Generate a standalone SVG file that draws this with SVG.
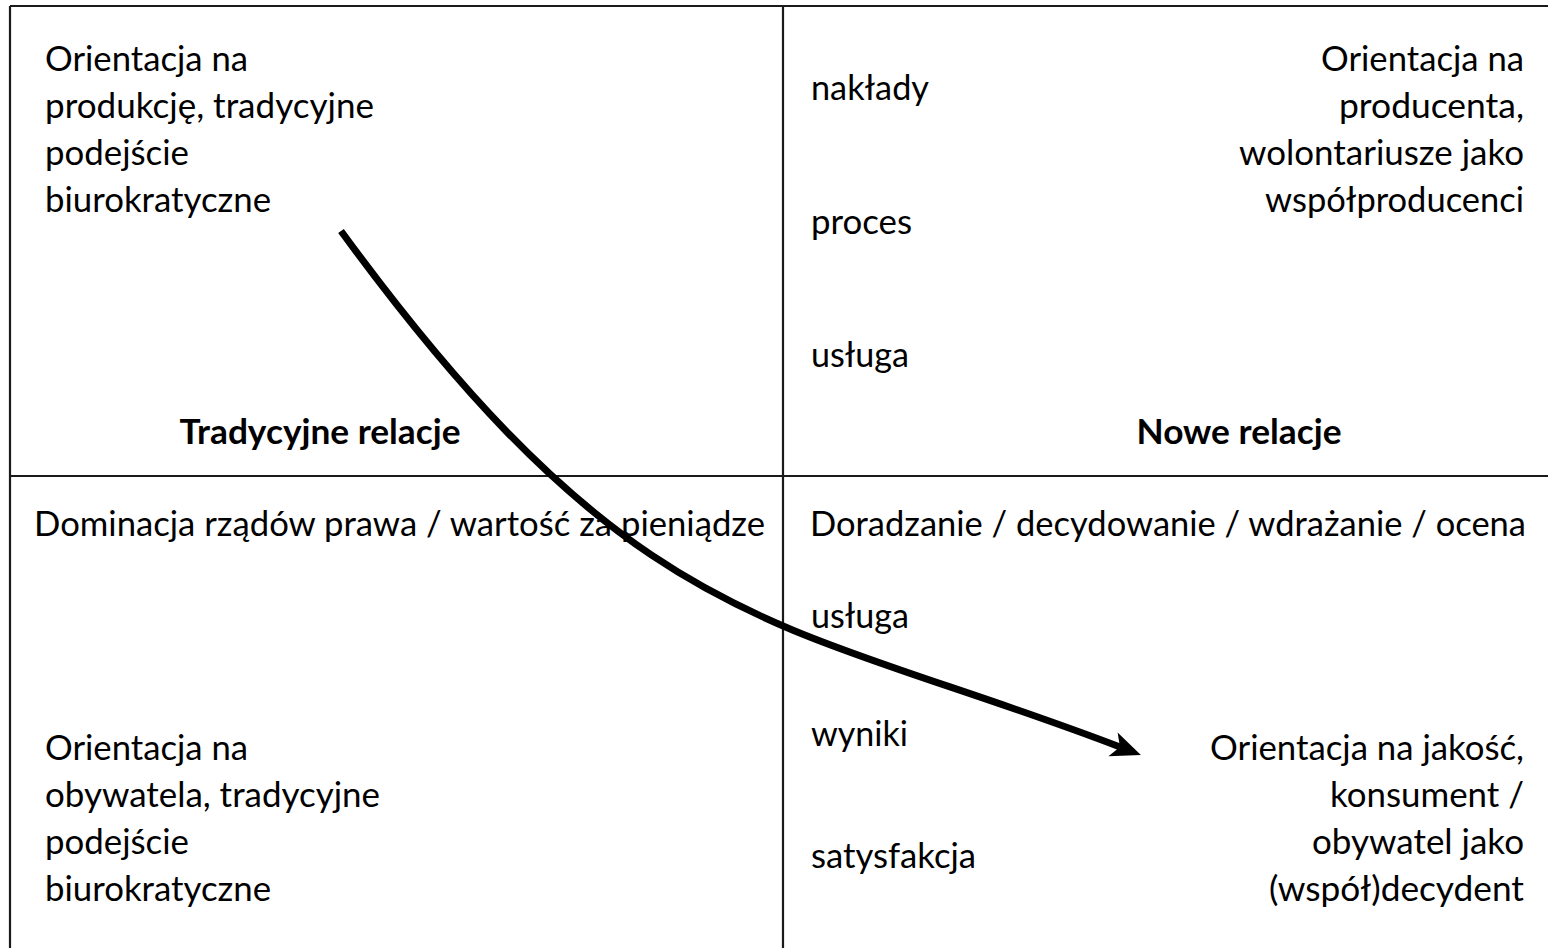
<svg xmlns="http://www.w3.org/2000/svg" width="1548" height="948" viewBox="0 0 1548 948">
<style>
.grid{stroke:#1a1a1a;stroke-width:2.2;fill:none}
.t{font-family:Lato,"Liberation Sans",sans-serif;font-size:35px;fill:#000}
.b{font-family:Lato,"Liberation Sans",sans-serif;font-size:35px;font-weight:bold;fill:#000}
.r{text-anchor:end}
.m{text-anchor:middle}
.arrow{stroke:#000;stroke-width:7;fill:none}
</style>
<defs>
<marker id="head" markerUnits="userSpaceOnUse" markerWidth="40" markerHeight="32" viewBox="-2 -15 34 30" refX="7" refY="0" orient="auto">
<path d="M0,-12 L28,0 L0,12 L7,0 Z" fill="#000"/>
</marker>
</defs>
<rect width="1548" height="948" fill="#fff"/>
<g id="grid">
<line class="grid" x1="10" y1="6" x2="1548" y2="6"/>
<line class="grid" x1="10" y1="6" x2="10" y2="948"/>
<line class="grid" x1="783" y1="6" x2="783" y2="948"/>
<line class="grid" x1="10" y1="476" x2="1548" y2="476"/>
</g>
<g id="q-top-left">
<text class="t" x="45" y="71" textLength="203" lengthAdjust="spacingAndGlyphs">Orientacja na</text>
<text class="t" x="45" y="118" textLength="329" lengthAdjust="spacingAndGlyphs">produkcję, tradycyjne</text>
<text class="t" x="45" y="165" textLength="144" lengthAdjust="spacingAndGlyphs">podejście</text>
<text class="t" x="45" y="212" textLength="226" lengthAdjust="spacingAndGlyphs">biurokratyczne</text>
</g>
<g id="title-traditional">
<text class="b m" x="320" y="444" textLength="281" lengthAdjust="spacingAndGlyphs">Tradycyjne relacje</text>
</g>
<g id="col-top">
<text class="t" x="811" y="100" textLength="118" lengthAdjust="spacingAndGlyphs">nakłady</text>
<text class="t" x="811" y="234" textLength="101" lengthAdjust="spacingAndGlyphs">proces</text>
<text class="t" x="811" y="367" textLength="98" lengthAdjust="spacingAndGlyphs">usługa</text>
</g>
<g id="q-top-right">
<text class="t r" x="1524" y="71" textLength="203" lengthAdjust="spacingAndGlyphs">Orientacja na</text>
<text class="t r" x="1524" y="118" textLength="185" lengthAdjust="spacingAndGlyphs">producenta,</text>
<text class="t r" x="1524" y="165" textLength="285" lengthAdjust="spacingAndGlyphs">wolontariusze jako</text>
<text class="t r" x="1524" y="212" textLength="259" lengthAdjust="spacingAndGlyphs">współproducenci</text>
</g>
<g id="title-new">
<text class="b m" x="1239" y="444" textLength="205" lengthAdjust="spacingAndGlyphs">Nowe relacje</text>
</g>
<g id="header-bottom-left">
<text class="t" x="34" y="536" textLength="731" lengthAdjust="spacingAndGlyphs">Dominacja rządów prawa / wartość za pieniądze</text>
</g>
<g id="header-bottom-right">
<text class="t" x="810" y="536" textLength="716" lengthAdjust="spacingAndGlyphs">Doradzanie / decydowanie / wdrażanie / ocena</text>
</g>
<g id="q-bottom-left">
<text class="t" x="45" y="760" textLength="203" lengthAdjust="spacingAndGlyphs">Orientacja na</text>
<text class="t" x="45" y="807" textLength="335" lengthAdjust="spacingAndGlyphs">obywatela, tradycyjne</text>
<text class="t" x="45" y="854" textLength="144" lengthAdjust="spacingAndGlyphs">podejście</text>
<text class="t" x="45" y="901" textLength="226" lengthAdjust="spacingAndGlyphs">biurokratyczne</text>
</g>
<g id="col-bottom">
<text class="t" x="811" y="628" textLength="98" lengthAdjust="spacingAndGlyphs">usługa</text>
<text class="t" x="811" y="746" textLength="97" lengthAdjust="spacingAndGlyphs">wyniki</text>
<text class="t" x="811" y="868" textLength="165" lengthAdjust="spacingAndGlyphs">satysfakcja</text>
</g>
<g id="q-bottom-right">
<text class="t r" x="1524" y="760" textLength="314" lengthAdjust="spacingAndGlyphs">Orientacja na jakość,</text>
<text class="t r" x="1524" y="807" textLength="194" lengthAdjust="spacingAndGlyphs">konsument /</text>
<text class="t r" x="1524" y="854" textLength="212" lengthAdjust="spacingAndGlyphs">obywatel jako</text>
<text class="t r" x="1524" y="901" textLength="255" lengthAdjust="spacingAndGlyphs">(współ)decydent</text>
</g>
<g id="connectors">
<path class="arrow" d="M341,231 C640,640 781,617 1120,747" marker-end="url(#head)"/>
</g>
</svg>
